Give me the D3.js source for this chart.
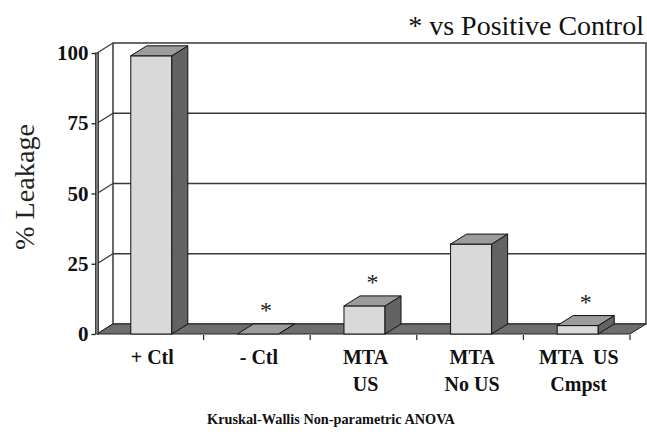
<!DOCTYPE html>
<html>
<head>
<meta charset="utf-8">
<script src="https://cdn.jsdelivr.net/npm/d3@7"></script>
<style>
  html, body { margin: 0; padding: 0; background: #fff; }
  svg { display: block; }
</style>
</head>
<body>
<svg id="chart" width="647" height="435"></svg>
<script>
// ---- data ----
const categories = [["+ Ctl"], ["- Ctl"], ["MTA", "US"], ["MTA", "No US"], ["MTA  US", "Cmpst"]];
const leakage = [99, 0, 10, 32, 3];
const significant = [false, true, true, false, true];
const yTicks = [0, 25, 50, 75, 100];
const titleText = "* vs Positive Control";
const yLabel = "% Leakage";
const footnote = "Kruskal-Wallis Non-parametric ANOVA";

(function () {
const plotLeft = 97, plotRight = 630, plotBottom = 334, plotTop = 53;
const DX = 16, DY = -10;
const serif = "Liberation Serif, Tinos, Times New Roman, Times, DejaVu Serif, serif";

const svg = d3.select("#chart");

const x = d3.scaleBand()
  .domain(d3.range(categories.length))
  .range([plotLeft, plotRight])
  .paddingInner(0.615)
  .paddingOuter(0.3075);
const y = d3.scaleLinear().domain([0, 100]).range([plotBottom, plotTop]);

const C = { front: "#d9d9d9", top: "#9c9c9c", side: "#636363", floor: "#6e6e6e", grid: "#3a3a3a" };
const pts = a => a.map(p => p.join(",")).join(" ");
const fit = (sel, size, width) => {
  const w = sel.node().getComputedTextLength();
  sel.attr("font-size", size * width / w);
};

svg.append("rect")
  .attr("x", plotLeft + DX).attr("y", y(100) + DY)
  .attr("width", plotRight - plotLeft).attr("height", y(0) - y(100))
  .attr("fill", "#fff").attr("stroke", C.grid).attr("stroke-width", 1.5);

svg.selectAll(".grid").data(yTicks.filter(t => t > 0 && t < 100)).join("line")
  .attr("x1", plotLeft + DX).attr("x2", plotRight + DX)
  .attr("y1", d => y(d) + DY).attr("y2", d => y(d) + DY)
  .attr("stroke", C.grid).attr("stroke-width", 1.5);

svg.selectAll(".diag").data(yTicks).join("line")
  .attr("x1", plotLeft).attr("x2", plotLeft + DX)
  .attr("y1", d => y(d)).attr("y2", d => y(d) + DY)
  .attr("stroke", C.grid).attr("stroke-width", 1.3);

svg.append("polygon")
  .attr("points", pts([[plotLeft, y(0)], [plotLeft + DX, y(0) + DY], [plotRight + DX, y(0) + DY], [plotRight, y(0)]]))
  .attr("fill", C.floor).attr("stroke", "#222").attr("stroke-width", 1);

svg.append("rect")
  .attr("x", plotLeft - 1.5).attr("y", y(100))
  .attr("width", 3).attr("height", y(0) - y(100))
  .attr("fill", "#777").attr("stroke", "#222").attr("stroke-width", 0.8);

const yAxis = d3.axisLeft(y).tickValues(yTicks).tickSize(4).tickPadding(3);
const yg = svg.append("g").attr("transform", `translate(${plotLeft - 1.5},0)`).call(yAxis);
yg.select(".domain").remove();
yg.selectAll(".tick line").attr("stroke", "#222").attr("stroke-width", 1.3);
yg.selectAll(".tick text")
  .attr("font-family", serif).attr("font-weight", "bold").attr("font-size", 21)
  .attr("fill", "#111");

const bounds = d3.range(1, categories.length + 1).map(i => plotLeft + x.step() * i);
svg.selectAll(".xt").data(bounds).join("line")
  .attr("x1", d => d).attr("x2", d => d)
  .attr("y1", y(0) + 1).attr("y2", y(0) + 6)
  .attr("stroke", "#222").attr("stroke-width", 1.2);

const bars = svg.selectAll(".bar").data(leakage).join("g").attr("class", "bar");
bars.each(function (v, i) {
  const g = d3.select(this);
  const x0 = x(i) + 1, x1 = x0 + x.bandwidth();
  const yt = y(v), yb = y(0);
  g.append("rect").attr("x", x0).attr("y", yt).attr("width", x1 - x0).attr("height", yb - yt)
    .attr("fill", C.front).attr("stroke", "#111").attr("stroke-width", 1);
  g.append("polygon")
    .attr("points", pts([[x1, yt], [x1 + DX, yt + DY], [x1 + DX, yb + DY], [x1, yb]]))
    .attr("fill", C.side).attr("stroke", "#111").attr("stroke-width", 1);
  g.append("polygon")
    .attr("points", pts([[x0, yt], [x0 + DX, yt + DY], [x1 + DX, yt + DY], [x1, yt]]))
    .attr("fill", C.top).attr("stroke", "#111").attr("stroke-width", 1);
});

svg.selectAll(".star").data(leakage.map((v, i) => ({ v, i })).filter(d => significant[d.i])).join("text")
  .attr("x", d => x(d.i) + 1 + x.bandwidth() / 2 + DX / 2)
  .attr("y", d => y(d.v) + DY - 6)
  .attr("text-anchor", "middle")
  .attr("font-family", serif).attr("font-size", 24).attr("fill", "#222")
  .text("*");

categories.forEach((lines, i) => {
  const cx = x(i) + x.bandwidth() / 2 + 2;
  const t = svg.append("text")
    .attr("x", cx).attr("y", 364)
    .attr("text-anchor", "middle")
    .attr("font-family", serif).attr("font-weight", "bold").attr("font-size", 20)
    .attr("fill", "#111")
    .style("white-space", "pre");
  lines.forEach((l, k) => t.append("tspan").attr("x", cx).attr("dy", k === 0 ? 0 : 27).text(l));
});

const title = svg.append("text")
  .attr("x", 644).attr("y", 35).attr("text-anchor", "end")
  .attr("font-family", serif).attr("font-size", 25).attr("fill", "#111")
  .text(titleText);
fit(title, 25, 236);

const yl = svg.append("text")
  .attr("transform", "translate(34,187) rotate(-90)")
  .attr("text-anchor", "middle")
  .attr("font-family", serif).attr("font-size", 27).attr("fill", "#222")
  .text(yLabel);
fit(yl, 27, 126);

const fn = svg.append("text")
  .attr("x", 331).attr("y", 424).attr("text-anchor", "middle")
  .attr("font-family", serif).attr("font-weight", "bold").attr("font-size", 14).attr("fill", "#111")
  .text(footnote);
fit(fn, 14, 248);
})();
</script>
</body>
</html>
